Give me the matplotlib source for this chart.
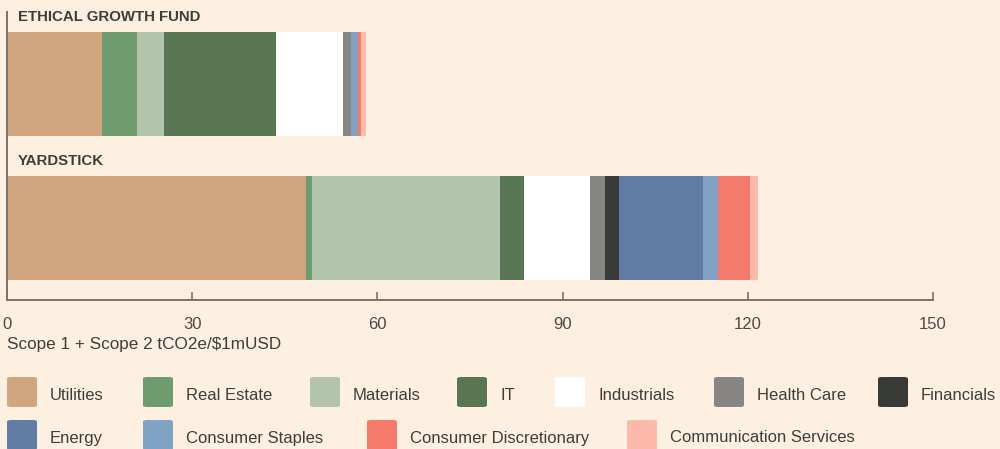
import matplotlib
matplotlib.use("Agg")
import matplotlib.pyplot as plt
from matplotlib.patches import FancyBboxPatch
from matplotlib.transforms import blended_transform_factory

plt.rcParams['font.family'] = ['Liberation Sans', 'DejaVu Sans']

funds = ["YARDSTICK", "ETHICAL GROWTH FUND"]
sectors = ["Utilities", "Real Estate", "Materials", "IT", "Industrials", "Health Care",
           "Financials", "Energy", "Consumer Staples", "Consumer Discretionary",
           "Communication Services"]
colors = ["#D1A67F", "#6F9C6F", "#B2C4AB", "#587651", "#FFFFFF", "#878682",
          "#393B38", "#617DA4", "#80A2C5", "#F47B6B", "#FDB9AA"]
yardstick = [48.4, 1.0, 30.4, 4.0, 10.7, 2.3, 2.3, 13.6, 2.4, 5.3, 1.2]
ethical = [15.4, 5.7, 4.4, 18.0, 11.0, 1.3, 0.0, 0.0, 1.1, 0.5, 0.8]
xticks = [0, 30, 60, 90, 120, 150]
xlabel = "Scope 1 + Scope 2 tCO2e/$1mUSD"

bg = "#FEF0E1"
fig = plt.figure(figsize=(10, 4.49), dpi=100, facecolor=bg)
ax = fig.add_axes([0.007, 1 - 300 / 449, 0.926, 288 / 449])
ax.set_facecolor(bg)

data = [yardstick, ethical]
for i, vals in enumerate(data):
    left = 0
    for v, c in zip(vals, colors):
        if v > 0:
            ax.barh(i, v, left=left, height=0.722, color=c, linewidth=0)
        left += v

ax.set_xlim(0, 150)
ax.set_ylim(-0.5, 1.5)
trans = blended_transform_factory(ax.transAxes, ax.transData)
for i, name in enumerate(funds):
    ax.text(0.0119, i + 0.361 + 0.105, name, transform=trans, fontsize=10.8,
            fontweight='bold', color="#3d3d3b", va='center', ha='left')

for s in ['top', 'right']:
    ax.spines[s].set_visible(False)
for s in ['left', 'bottom']:
    ax.spines[s].set_color("#77746f")
    ax.spines[s].set_linewidth(1.4)
ax.set_yticks([])
ax.set_xticks(xticks)
ax.set_xticklabels([str(t) for t in xticks])
ax.tick_params(axis='x', direction='in', length=6, width=1.2, color="#77746f",
               labelsize=12, labelcolor="#4a4a48", pad=12)
ax.set_xlabel(xlabel, fontsize=12.3, color="#3d3d3b", loc='left', labelpad=4)

# legend
rows = [
    [(7, 50), (143, 186), (310, 353), (457, 500), (555, 598), (714, 757), (878, 921)],
    [(7, 50), (143, 186), (367, 410), (627, 670)],
]
row_y = [392, 435]
k = 0
W, H = 1000, 449
for r, row in enumerate(rows):
    for sx, tx in row:
        yc = row_y[r]
        p = FancyBboxPatch((sx / W, 1 - (yc + 15) / H), 30 / W, 30 / H,
                           boxstyle="round,pad=0,rounding_size=0.004",
                           transform=fig.transFigure, facecolor=colors[k],
                           edgecolor='none')
        fig.patches.append(p)
        fig.text(tx / W, 1 - (yc + 3) / H, sectors[k], fontsize=12, color="#3d3d3b",
                 va='center', ha='left')
        k += 1

fig.savefig("out.png", dpi=100, facecolor=bg)
